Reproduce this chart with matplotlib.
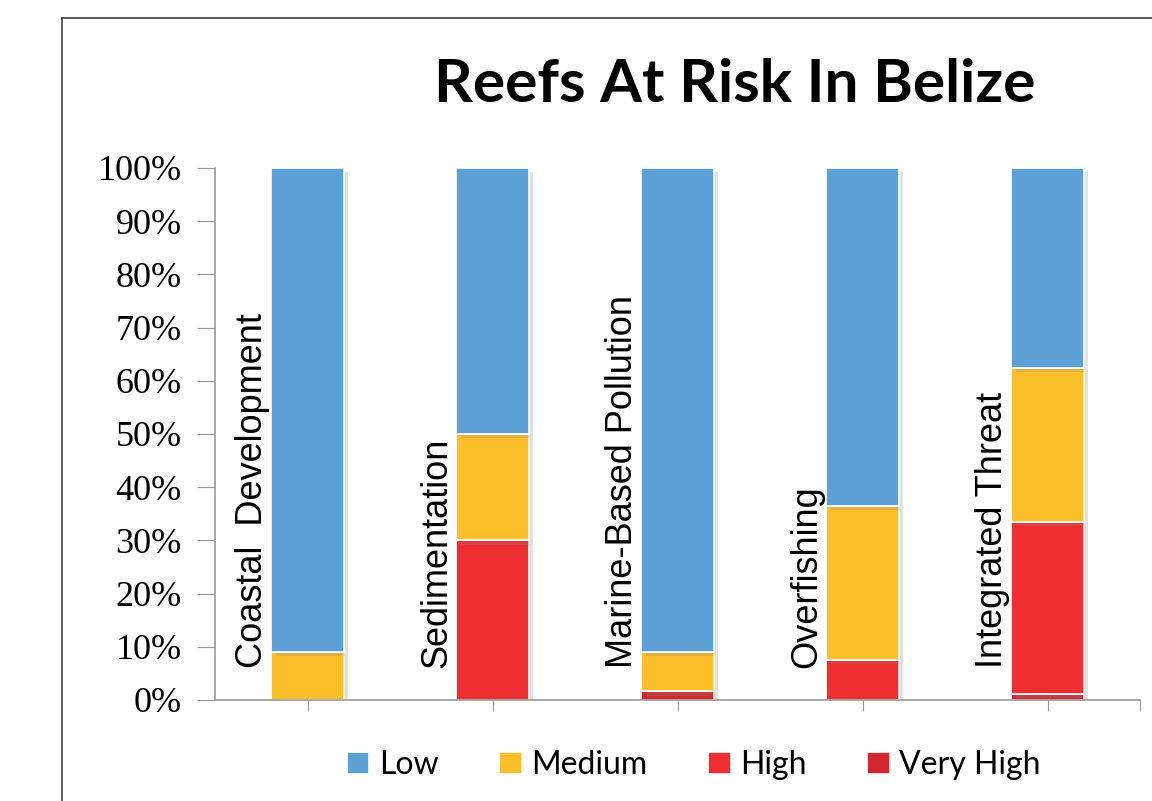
import numpy as np
import matplotlib.pyplot as plt
import matplotlib.patheffects as pe
from matplotlib.lines import Line2D

# threat categories and share of reefs in each risk level (fractions)
threats = ["Coastal  Development", "Sedimentation", "Marine-Based Pollution",
           "Overfishing", "Integrated Threat"]
very_high = [0.0, 0.0, 0.016, 0.0, 0.012]
high = [0.0, 0.30, 0.0, 0.075, 0.323]
medium = [0.09, 0.20, 0.074, 0.29, 0.29]
low = [0.91, 0.50, 0.91, 0.635, 0.375]
yticks = [0, 0.1, 0.2, 0.3, 0.4, 0.5, 0.6, 0.7, 0.8, 0.9, 1.0]
ytick_labels = ["0%", "10%", "20%", "30%", "40%", "50%", "60%", "70%", "80%", "90%", "100%"]

levels = ["Very High", "High", "Medium", "Low"]
series = [very_high, high, medium, low]
colors = ["#D2282D", "#EE2E31", "#FBBF2A", "#5CA0D5"]

fig = plt.figure(figsize=(11.52, 8.01), dpi=100)
ax = fig.add_axes([215/1152, 1 - 700/801, 925/1152, 532/801])

x = np.arange(len(threats))
bottom = np.zeros(len(threats))
bars = {}
shadow = [pe.SimplePatchShadow(offset=(3, -3), shadow_rgbFace="#888888", alpha=0.25), pe.Normal()]
for name, vals, col in zip(levels, series, colors):
    b = ax.bar(x, vals, 0.39, bottom=bottom, color=col, edgecolor="white", linewidth=1.2, label=name)
    for p in b:
        p.set_path_effects(shadow)
    bars[name] = b
    bottom += np.array(vals)

# category names written vertically beside each bar
for i, t in enumerate(threats):
    ax.text(i - 0.30, 0.06, t, rotation=90, ha="center", va="bottom",
            fontsize=26, family="Liberation Sans", color="black")

ax.set_xlim(-0.5, 4.5)
ax.set_ylim(0, 1)
ax.set_yticks(yticks)
ax.set_yticklabels(ytick_labels, family="Liberation Serif", fontsize=26)
ax.set_xticks(list(x) + [4.5])
ax.set_xticklabels([])
ax.tick_params(axis="x", length=8, color="#999999", direction="out")
ax.tick_params(axis="y", length=13, color="#999999", direction="out", pad=11)
for s in ["top", "right"]:
    ax.spines[s].set_visible(False)
for s in ["left", "bottom"]:
    ax.spines[s].set_color("#999999")
    ax.spines[s].set_linewidth(1.2)

fig.text(735/1152, 1 - 85/801, "Reefs At Risk In Belize", ha="center", va="center",
         fontsize=43.5, fontweight="bold", family="Lato")

handles = [bars[n][0] for n in ["Low", "Medium", "High", "Very High"]]
leg = fig.legend(handles, ["Low", "Medium", "High", "Very High"], loc="center",
                 bbox_to_anchor=(694/1152, 1 - 765/801), ncol=4, frameon=False,
                 prop={"family": "Lato", "size": 23}, handlelength=0.7, handleheight=0.7,
                 handletextpad=0.3, columnspacing=1.9)
for h in leg.legend_handles:
    h.set_path_effects([])

# outer frame lines (top and left)
fig.add_artist(Line2D([62/1152, 1], [1 - 18/801, 1 - 18/801], color="#444444", lw=1.2))
fig.add_artist(Line2D([62/1152, 62/1152], [0, 1 - 18/801], color="#444444", lw=1.2))

fig.savefig("out.png", dpi=100)
